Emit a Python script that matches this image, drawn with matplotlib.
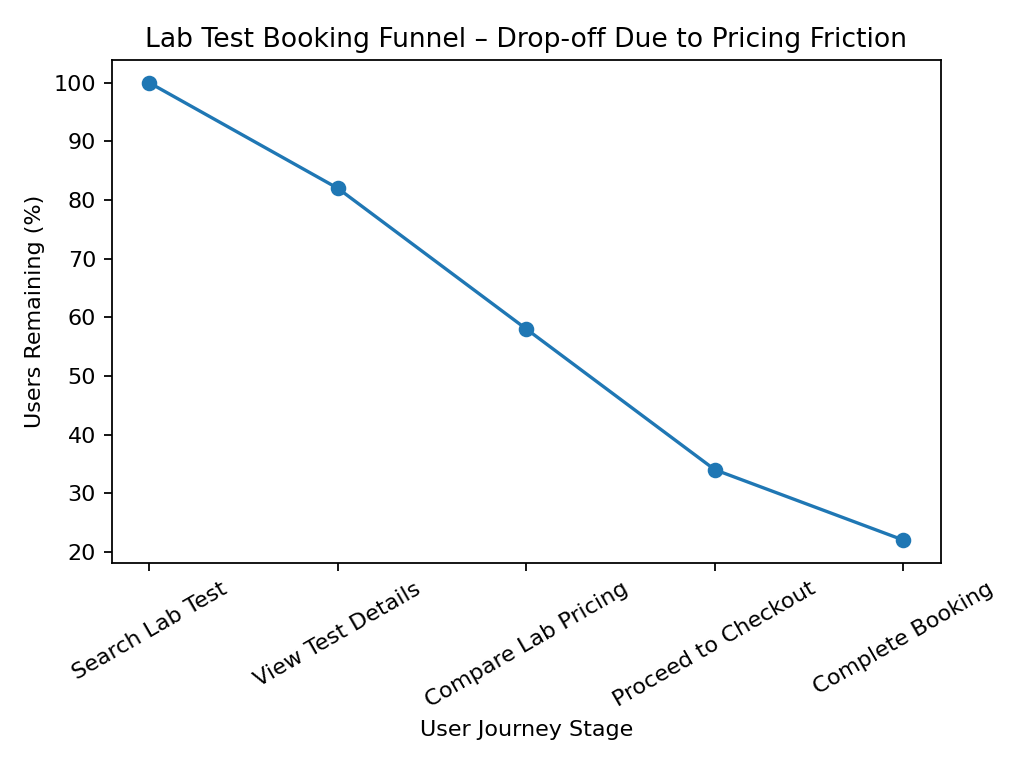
import matplotlib
matplotlib.use("Agg")
import matplotlib.pyplot as plt

# funnel stages and share of users left at each one
stages = ["Search Lab Test", "View Test Details", "Compare Lab Pricing",
          "Proceed to Checkout", "Complete Booking"]
users_remaining = [100, 82, 58, 34, 22]

fig, ax = plt.subplots(figsize=(6.4, 4.8), dpi=160)
ax.plot(stages, users_remaining, marker='o')
ax.set_title("Lab Test Booking Funnel – Drop-off Due to Pricing Friction")
ax.set_xlabel("User Journey Stage")
ax.set_ylabel("Users Remaining (%)")
plt.xticks(rotation=30)

fig.subplots_adjust(left=0.109, right=0.919, top=0.922, bottom=0.267)
plt.savefig("out.png", dpi=160)
